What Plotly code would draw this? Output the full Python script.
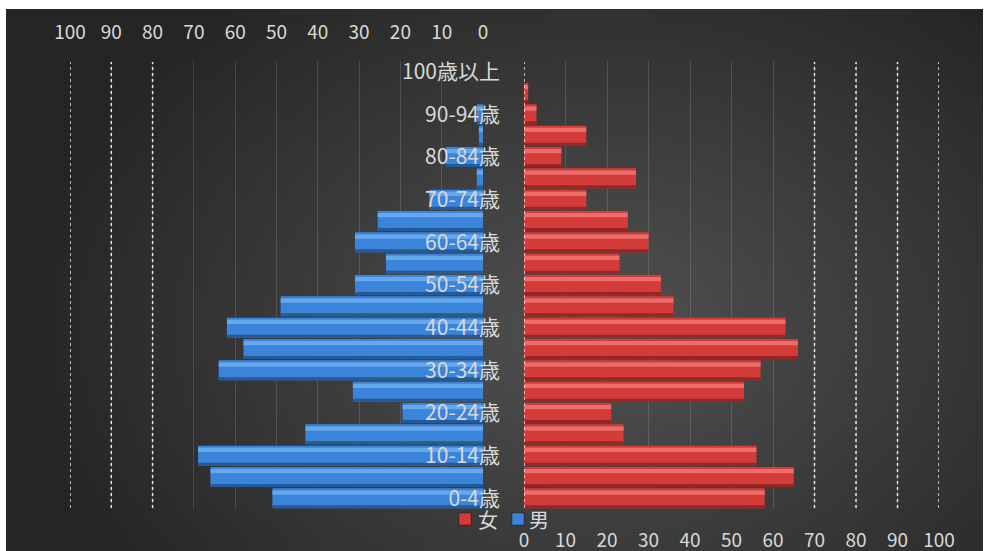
import base64, struct, zlib, math
import plotly.graph_objects as go

# ---------------- data ----------------
age_groups = ["0-4歳", "5-9歳", "10-14歳", "15-19歳", "20-24歳", "25-29歳", "30-34歳",
              "35-39歳", "40-44歳", "45-49歳", "50-54歳", "55-59歳", "60-64歳", "65-69歳",
              "70-74歳", "75-79歳", "80-84歳", "85-89歳", "90-94歳", "95-99歳", "100歳以上"]
male = [51, 66, 69, 43, 19.5, 31.5, 64, 58, 62, 49, 31, 23.5, 31, 25.5,
        13, 1.5, 9, 1, 1.5, 0, 0]
female = [58, 65, 56, 24, 21, 53, 57, 66, 63, 36, 33, 23, 30, 25,
          15, 27, 9, 15, 3, 1, 0]
tick_values = [0, 10, 20, 30, 40, 50, 60, 70, 80, 90, 100]
label_groups = age_groups[::2]
series_names = ["女", "男"]

# ---------------- geometry ----------------
W, H = 985, 551
ML, MR, MT, MB = 70, 46, 61, 42
PW = W - ML - MR
PH = H - MT - MB
male_dom = [0, (483 - ML) / PW]
female_dom = [(524 - ML) / PW, 1]

def px2x(px):
    return (px - ML) / PW

def py2y(py):
    return (H - MB - py) / PH

# ---------------- gradient background (png) ----------------
def make_png(w, h, fn):
    raw = bytearray()
    for j in range(h):
        raw.append(0)
        for i in range(w):
            raw.extend(fn(i, j))
    def chunk(t, d):
        c = struct.pack(">I", len(d)) + t + d
        return c + struct.pack(">I", zlib.crc32(t + d) & 0xffffffff)
    png = b"\x89PNG\r\n\x1a\n"
    png += chunk(b"IHDR", struct.pack(">IIBBBBB", w, h, 8, 2, 0, 0, 0))
    png += chunk(b"IDAT", zlib.compress(bytes(raw), 9))
    png += chunk(b"IEND", b"")
    return "data:image/png;base64," + base64.b64encode(png).decode()

X0, X1, Y0, Y1 = 6, 983, 9, 551
GW, GH = 120, 68

def grad(i, j):
    px = X0 + (X1 - X0) * (i + 0.5) / GW
    py = Y0 + (Y1 - Y0) * (j + 0.5) / GH
    d = math.sqrt(((px - 600) / 580) ** 2 + ((py - 330) / 430) ** 2)
    v = int(round(82 - 45 * min(d, 1.0)))
    return (v, v, v)

bg_src = make_png(GW, GH, grad)

# ---------------- figure ----------------
fig = go.Figure()

male_body, male_hi, male_sh = "#3a84da", "#72b2f4", "#22538e"
fem_body, fem_hi, fem_sh = "#d43c3a", "#f27a77", "#8e2020"

fig.add_trace(go.Bar(y=age_groups, x=female, orientation="h", name=series_names[0],
                     xaxis="x2", yaxis="y", marker=dict(color=fem_body, line=dict(width=0)),
                     width=0.94, offset=-0.47, showlegend=False, hoverinfo="x+y"))
fig.add_trace(go.Bar(y=age_groups, x=male, orientation="h", name=series_names[1],
                     xaxis="x", yaxis="y", marker=dict(color=male_body, line=dict(width=0)),
                     width=0.94, offset=-0.47, showlegend=False, hoverinfo="x+y"))
# bevel highlights / shadows (same data)
for vals, ax, hi, sh in [(female, "x2", fem_hi, fem_sh), (male, "x", male_hi, male_sh)]:
    fig.add_trace(go.Bar(y=age_groups, x=vals, orientation="h", xaxis=ax, yaxis="y",
                         marker=dict(color=hi, line=dict(width=0)), width=0.2, offset=0.17,
                         showlegend=False, hoverinfo="skip", opacity=0.8))
    fig.add_trace(go.Bar(y=age_groups, x=vals, orientation="h", xaxis=ax, yaxis="y",
                         marker=dict(color=sh, line=dict(width=0)), width=0.14, offset=-0.47,
                         showlegend=False, hoverinfo="skip", opacity=0.85))

txt = "#d9d9d9"
font_fam = "Noto Sans CJK JP, Noto Sans, sans-serif"

shapes = []
for v in [100, 90, 80]:
    shapes.append(dict(type="line", xref="x", yref="paper", x0=v, x1=v, y0=py2y(508), y1=py2y(62),
                       line=dict(color="#e6e6e6", width=1.5, dash="dot"), layer="above"))
for v in [0, 70, 80, 90, 100]:
    shapes.append(dict(type="line", xref="x2", yref="paper", x0=v, x1=v, y0=py2y(508), y1=py2y(62),
                       line=dict(color="#e6e6e6", width=1.5, dash="dot"), layer="above"))

# legend (squares + labels)
annotations = []
for name, col, sq_x, tx_x in [(series_names[0], fem_body, 459, 476), (series_names[1], male_body, 512, 527)]:
    shapes.append(dict(type="rect", xref="paper", yref="paper",
                       x0=px2x(sq_x), x1=px2x(sq_x + 12), y0=py2y(525), y1=py2y(513),
                       fillcolor=col, line=dict(color="rgba(0,0,0,0.35)", width=1), layer="above"))
    annotations.append(dict(text=name, xref="paper", yref="paper", x=px2x(tx_x), y=py2y(519),
                            xanchor="left", yanchor="middle", showarrow=False,
                            font=dict(size=20, color=txt, family=font_fam)))

fig.update_layout(
    width=W, height=H,
    margin=dict(l=ML, r=MR, t=MT, b=MB, pad=0, autoexpand=False),
    paper_bgcolor="white", plot_bgcolor="rgba(0,0,0,0)",
    barmode="overlay",
    font=dict(family=font_fam, color=txt, size=17),
    images=[dict(source=bg_src, xref="paper", yref="paper", x=px2x(X0), y=py2y(Y0),
                 sizex=(X1 - X0) / PW, sizey=(Y1 - Y0) / PH, sizing="stretch",
                 xanchor="left", yanchor="top", layer="below")],
    shapes=shapes,
    annotations=annotations,
    xaxis=dict(domain=male_dom, range=[100, 0], side="top", anchor="y",
               tickvals=tick_values, ticktext=[str(v) for v in tick_values],
               showgrid=True, gridcolor="rgba(255,255,255,0.13)", gridwidth=1,
               zeroline=False, showline=False, ticks="", ticklabelstandoff=17,
               tickfont=dict(size=19, color=txt, family=font_fam), fixedrange=True),
    xaxis2=dict(domain=female_dom, range=[0, 100], side="bottom", anchor="y",
                tickvals=tick_values, ticktext=[str(v) for v in tick_values],
                showgrid=True, gridcolor="rgba(255,255,255,0.13)", gridwidth=1,
                zeroline=False, showline=False, ticks="", ticklabelstandoff=18,
                tickfont=dict(size=19, color=txt, family=font_fam), fixedrange=True),
    yaxis=dict(type="category", categoryorder="array", categoryarray=age_groups,
               range=[-0.5, 20.5], anchor="free", position=px2x(500), side="left",
               tickvals=label_groups, ticktext=label_groups, showgrid=False,
               zeroline=False, showline=False, ticks="", ticklabelstandoff=0,
               tickfont=dict(size=21, color=txt, family=font_fam), fixedrange=True),
    showlegend=False,
)

fig.write_html("out.html")
